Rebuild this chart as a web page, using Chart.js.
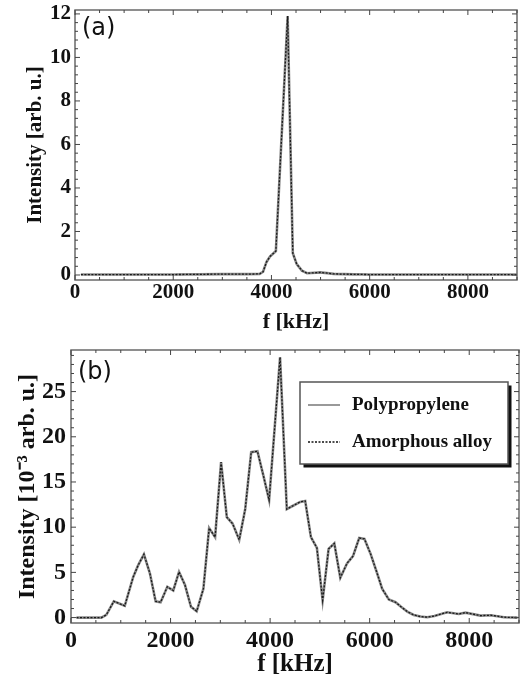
<!DOCTYPE html>
<html>
<head>
<meta charset="utf-8">
<script src="https://cdn.jsdelivr.net/npm/chart.js@4.4.1/dist/chart.umd.min.js"></script>
<style>
  body { margin: 0; background: #fff; }
  canvas { position: absolute; left: 0; }
  #chartA { top: 0; }
  #chartB { top: 340px; }
</style>
</head>
<body>
<canvas id="chartA" width="529" height="340"></canvas>
<canvas id="chartB" width="529" height="347"></canvas>
<script>
// panel (a): both samples lie on top of each other
const freqA = [120, 500, 1000, 1500, 2000, 2500, 3000, 3500, 3760, 3830, 3900, 3970, 4090, 4330, 4435, 4515, 4620, 4725, 5000, 5270, 5680, 6000, 6500, 7000, 7500, 8000, 8500, 9000];
const intensityA = [0.02, 0.02, 0.02, 0.02, 0.02, 0.03, 0.04, 0.04, 0.05, 0.15, 0.6, 0.85, 1.1, 11.9, 1.0, 0.5, 0.2, 0.08, 0.12, 0.05, 0.03, 0.02, 0.02, 0.02, 0.02, 0.02, 0.02, 0.02];

// panel (b), in 10^-3 arb. u.
const freqB = [110, 610, 710, 860, 1080, 1250, 1350, 1465, 1585, 1700, 1800, 1935, 2055, 2170, 2290, 2410, 2525, 2660, 2775, 2895, 3015, 3130, 3245, 3380, 3500, 3620, 3745, 3865, 3980, 4200, 4335, 4470, 4605, 4705, 4820, 4940, 5055, 5175, 5290, 5410, 5545, 5665, 5790, 5895, 6015, 6150, 6250, 6385, 6520, 6630, 6755, 6885, 7020, 7155, 7300, 7555, 7790, 7925, 8225, 8430, 8700, 8970];
const intensityB = [0, 0, 0.3, 1.8, 1.3, 4.5, 5.8, 7.0, 4.9, 1.8, 1.7, 3.4, 3.0, 5.05, 3.6, 1.2, 0.7, 3.2, 9.9, 8.9, 17.2, 11.1, 10.4, 8.6, 12.0, 18.3, 18.4, 15.7, 13.0, 28.8, 12.0, 12.4, 12.8, 12.9, 8.9, 7.7, 1.9, 7.6, 8.2, 4.4, 6.0, 6.8, 8.8, 8.7, 7.1, 4.9, 3.2, 2.0, 1.7, 1.2, 0.66, 0.29, 0.11, 0.04, 0.18, 0.58, 0.4, 0.55, 0.22, 0.26, 0.04, 0];

const seriesNames = ['Polypropylene', 'Amorphous alloy'];
const xTicks = [0, 2000, 4000, 6000, 8000];
const yTicksA = [0, 2, 4, 6, 8, 10, 12];
const yTicksB = [0, 5, 10, 15, 20, 25];

const serif = '"Liberation Serif", "Times New Roman", serif';
const ink = '#111';

function points(xs, ys) {
  return xs.map((x, i) => ({x: x, y: ys[i]}));
}

function makeDatasets(xs, ys) {
  return [
    {label: seriesNames[0], data: points(xs, ys), borderColor: '#8a8a8a', borderWidth: 2.6, order: 2},
    {label: seriesNames[1], data: points(xs, ys), borderColor: '#1a1a1a', borderWidth: 1.3, borderDash: [2, 1.5], order: 1}
  ];
}

// frame with inward ticks on all sides, panel letter, optional legend
const framePlugin = {
  id: 'frame',
  afterDatasetsDraw(chart, args, opts) {
    const {ctx, chartArea: a} = chart;
    const x = chart.scales.x, y = chart.scales.y;
    ctx.save();
    ctx.strokeStyle = '#6a6a6a';
    ctx.lineWidth = 1.5;
    ctx.strokeRect(a.left, a.top, a.right - a.left, a.bottom - a.top);

    ctx.strokeStyle = '#444';
    ctx.lineWidth = 1;
    ctx.beginPath();
    for (let i = 0; i * opts.xMinor <= x.max; i++) {
      const v = i * opts.xMinor;
      const px = x.getPixelForValue(v);
      const len = xTicks.includes(v) ? 5 : 3;
      ctx.moveTo(px, a.bottom); ctx.lineTo(px, a.bottom - len);
      ctx.moveTo(px, a.top); ctx.lineTo(px, a.top + len);
    }
    for (let i = 0; i * opts.yMinor <= y.max; i++) {
      const v = +(i * opts.yMinor).toFixed(3);
      const py = y.getPixelForValue(v);
      const len = opts.yMajor.includes(v) ? 5 : 3;
      ctx.moveTo(a.left, py); ctx.lineTo(a.left + len, py);
      ctx.moveTo(a.right, py); ctx.lineTo(a.right - len, py);
    }
    ctx.stroke();

    ctx.fillStyle = ink;
    ctx.font = '24px "DejaVu Sans"';
    ctx.textBaseline = 'middle';
    ctx.textAlign = 'left';
    ctx.fillText(opts.label, a.left + 7, opts.labelY);

    const lg = opts.legend;
    if (lg) {
      ctx.fillStyle = '#111';
      ctx.fillRect(lg.x + 3.5, lg.y + 3.5, lg.w, lg.h);
      ctx.fillStyle = '#fff';
      ctx.fillRect(lg.x, lg.y, lg.w, lg.h);
      ctx.strokeStyle = '#555';
      ctx.lineWidth = 1.5;
      ctx.strokeRect(lg.x, lg.y, lg.w, lg.h);
      chart.data.datasets.forEach((ds, i) => {
        const cy = lg.y + 23 + i * 37;
        ctx.beginPath();
        ctx.strokeStyle = i === 0 ? '#777' : '#111';
        ctx.lineWidth = 1.5;
        ctx.setLineDash(ds.borderDash || []);
        ctx.moveTo(lg.x + 8, cy);
        ctx.lineTo(lg.x + 40, cy);
        ctx.stroke();
        ctx.setLineDash([]);
        ctx.fillStyle = ink;
        ctx.font = 'bold 19px ' + serif;
        ctx.fillText(ds.label, lg.x + 52, cy);
      });
    }
    ctx.restore();
  }
};

function xAxis(size, tickPad, titlePad, height) {
  return {
    type: 'linear', min: 0, max: 9000,
    grid: {display: false, drawTicks: false},
    border: {display: false},
    ticks: {color: ink, font: {family: serif, size: size, weight: 'bold'}, padding: tickPad,
      maxRotation: 0, autoSkip: false, callback: v => String(v)},
    title: {display: true, text: 'f [kHz]', color: ink, font: {family: serif, size: size + 1, weight: 'bold'},
      padding: {top: 0, bottom: titlePad}},
    afterBuildTicks: s => { s.ticks = xTicks.map(v => ({value: v})); },
    afterFit: s => { s.height = height; s.paddingLeft = 0; s.paddingRight = 0; }
  };
}

function yAxis(min, max, ticks, title, size, tickPad, titlePad, width) {
  return {
    type: 'linear', min: min, max: max,
    grid: {display: false, drawTicks: false},
    border: {display: false},
    ticks: {color: ink, font: {family: serif, size: size, weight: 'bold'}, padding: tickPad,
      autoSkip: false, callback: v => String(v)},
    title: {display: true, text: title, color: ink, font: {family: serif, size: size, weight: 'bold'},
      padding: {top: titlePad, bottom: 0}},
    afterBuildTicks: s => { s.ticks = ticks.map(v => ({value: v})); },
    afterFit: s => { s.width = width; s.paddingTop = 0; s.paddingBottom = 0; }
  };
}

const common = {
  responsive: false,
  animation: false,
  elements: {point: {radius: 0}, line: {tension: 0}},
  plugins: {legend: {display: false}, tooltip: {enabled: false}}
};

new Chart(document.getElementById('chartA'), {
  type: 'line',
  data: {datasets: makeDatasets(freqA, intensityA)},
  options: Object.assign({}, common, {
    layout: {padding: {left: 0, right: 12, top: 10, bottom: 0}},
    scales: {
      x: xAxis(21, 0, 4, 60),
      y: yAxis(-0.23, 12.18, yTicksA, 'Intensity [arb. u.]', 21, 4, 23, 75)
    },
    plugins: Object.assign({}, common.plugins, {
      frame: {xMinor: 500, yMinor: 0.4, yMajor: yTicksA, label: '(a)', labelY: 29}
    })
  }),
  plugins: [framePlugin]
});

new Chart(document.getElementById('chartB'), {
  type: 'line',
  data: {datasets: makeDatasets(freqB, intensityB)},
  options: Object.assign({}, common, {
    layout: {padding: {left: 0, right: 10, top: 10, bottom: 0}},
    scales: {
      x: xAxis(24, 3, 7, 64),
      y: yAxis(-0.6, 29.6, yTicksB, 'Intensity [10\u207B\u00B3 arb. u.]', 24, 5, 13, 71)
    },
    plugins: Object.assign({}, common.plugins, {
      frame: {xMinor: 500, yMinor: 1, yMajor: yTicksB, label: '(b)', labelY: 33,
        legend: {x: 300, y: 42, w: 208, h: 82}}
    })
  }),
  plugins: [framePlugin]
});
</script>
</body>
</html>
